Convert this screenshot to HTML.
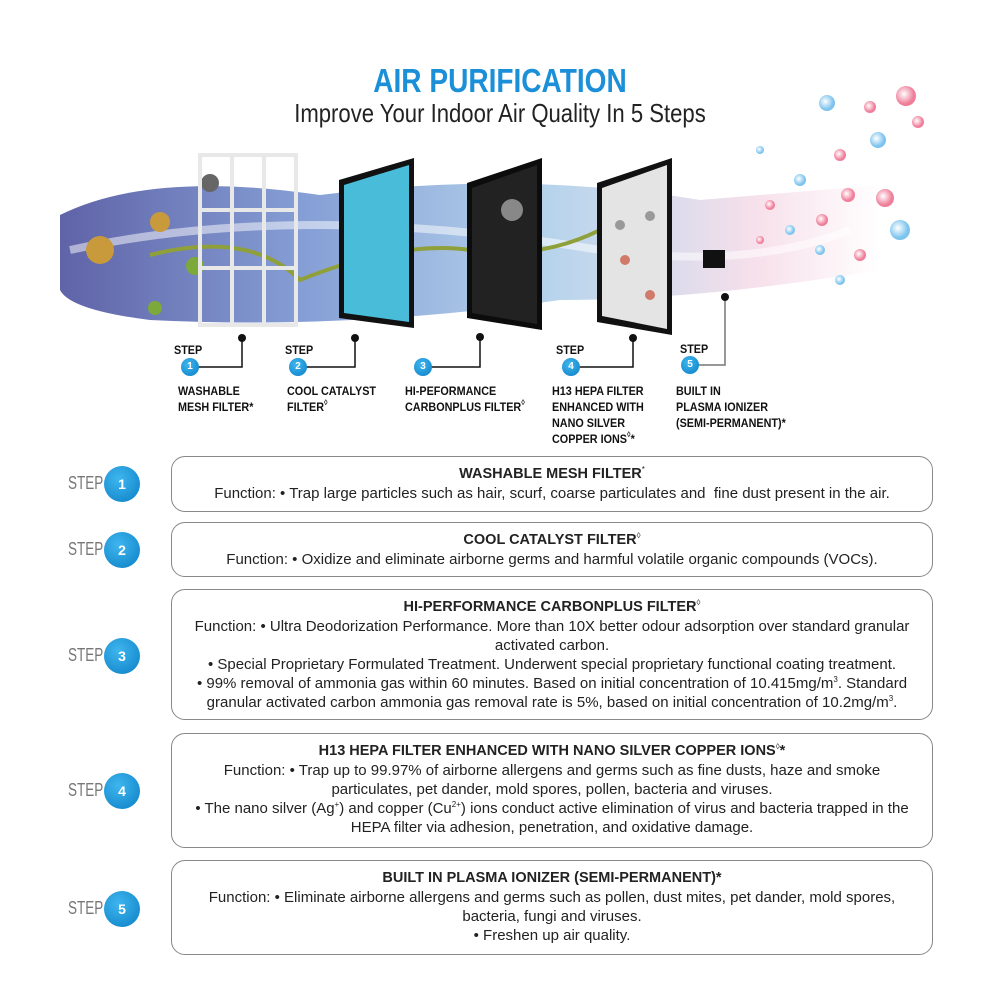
<!DOCTYPE html>
<html><head><meta charset="utf-8"><style>
*{margin:0;padding:0;box-sizing:border-box}
body{width:1000px;height:1000px;background:#fff;font-family:"Liberation Sans",sans-serif;position:relative;overflow:hidden;color:#222}
sup{font-size:8px;line-height:0;vertical-align:6px}
.abs{position:absolute}
.t1{left:0;width:1000px;top:62px;text-align:center;color:#1b8fd8;font-weight:bold;font-size:33px;transform:scaleX(0.85)}
.t2{left:0;width:1000px;top:98px;text-align:center;color:#222;font-size:26px;transform:scaleX(0.85)}
.lbl{font-size:12px;font-weight:bold;line-height:16px;color:#111;transform-origin:left top;transform:scaleX(0.9);white-space:nowrap}
.box{left:171px;width:762px;border:1px solid #888;border-radius:14px;text-align:center;font-size:15px;line-height:19px;color:#222;padding-top:7px}
.box b{font-size:14.5px}
.step{left:68px;font-size:18px;color:#777;transform:scaleX(0.75);transform-origin:left top}
.circ{width:36px;height:36px;border-radius:50%;background:radial-gradient(circle at 40% 35%,#3fb6ee,#0a7fc6);color:#fff;font-weight:bold;font-size:14px;text-align:center;line-height:36px}
.sc{width:18px;height:18px;border-radius:50%;background:radial-gradient(circle at 40% 35%,#3fb6ee,#0a7fc6);color:#fff;font-weight:bold;font-size:10px;text-align:center;line-height:18px}
</style></head><body>
<div class="abs t1">AIR PURIFICATION</div>
<div class="abs t2">Improve Your Indoor Air Quality In 5 Steps</div>

<svg class="abs" style="left:0;top:0" width="1000" height="460">
<defs>
<linearGradient id="sw" x1="0" x2="1"><stop offset="0" stop-color="#2a2f8a"/><stop offset="0.3" stop-color="#5d7fc8"/><stop offset="0.6" stop-color="#9fc6e6"/><stop offset="0.85" stop-color="#f4d6e4"/><stop offset="1" stop-color="#fff"/></linearGradient>
<radialGradient id="ion" cx="0.4" cy="0.4"><stop offset="0" stop-color="#fff"/><stop offset="1" stop-color="#7cc3ee"/></radialGradient>
<radialGradient id="ionr" cx="0.4" cy="0.4"><stop offset="0" stop-color="#fff"/><stop offset="1" stop-color="#ef7c98"/></radialGradient>
</defs>
<path d="M60 215 Q150 170 320 195 Q520 170 700 200 L880 185 L880 270 Q700 300 560 300 Q350 330 150 320 Q70 310 60 290 Z" fill="url(#sw)" opacity="0.75"/>
<path d="M70 250 Q300 200 600 250 Q750 270 850 230" stroke="#fff" stroke-width="8" fill="none" opacity="0.5"/>
<circle cx="100" cy="250" r="14" fill="#c99a3c"/><circle cx="160" cy="222" r="10" fill="#c99a3c"/>
<circle cx="195" cy="266" r="9" fill="#7da83a"/><circle cx="155" cy="308" r="7" fill="#7da83a"/>
<circle cx="210" cy="183" r="9" fill="#666"/>
<path d="M150 255 Q250 230 300 280 Q400 240 470 250 Q540 260 600 230" stroke="#8fa03a" stroke-width="4" fill="none"/>
<g stroke="#e8e8e8" stroke-width="4" fill="none">
<rect x="200" y="155" width="96" height="170"/><line x1="232" y1="155" x2="232" y2="325"/><line x1="264" y1="155" x2="264" y2="325"/><line x1="200" y1="210" x2="296" y2="210"/><line x1="200" y1="268" x2="296" y2="268"/>
</g>
<polygon points="339,180 414,158 414,328 339,318" fill="#111"/>
<polygon points="344,185 409,165 409,322 344,313" fill="#49bcd9"/>
<polygon points="467,183 542,158 542,330 467,318" fill="#0c0c0c"/>
<polygon points="472,188 537,165 537,324 472,313" fill="#222"/>
<circle cx="512" cy="210" r="11" fill="#888"/>
<polygon points="597,183 672,158 672,335 597,322" fill="#111"/>
<polygon points="602,188 667,165 667,329 602,316" fill="#e4e4e4"/>
<circle cx="620" cy="225" r="5" fill="#999"/><circle cx="650" cy="216" r="5" fill="#999"/><circle cx="625" cy="260" r="5" fill="#d07a6a"/><circle cx="650" cy="295" r="5" fill="#d07a6a"/>
<rect x="703" y="250" width="22" height="18" fill="#111"/>
<g>
<circle cx="827" cy="103" r="8" fill="url(#ion)"/><circle cx="870" cy="107" r="6" fill="url(#ionr)"/><circle cx="906" cy="96" r="10" fill="url(#ionr)"/><circle cx="878" cy="140" r="8" fill="url(#ion)"/><circle cx="918" cy="122" r="6" fill="url(#ionr)"/><circle cx="840" cy="155" r="6" fill="url(#ionr)"/><circle cx="900" cy="230" r="10" fill="url(#ion)"/><circle cx="885" cy="198" r="9" fill="url(#ionr)"/><circle cx="848" cy="195" r="7" fill="url(#ionr)"/><circle cx="800" cy="180" r="6" fill="url(#ion)"/><circle cx="822" cy="220" r="6" fill="url(#ionr)"/><circle cx="790" cy="230" r="5" fill="url(#ion)"/><circle cx="770" cy="205" r="5" fill="url(#ionr)"/><circle cx="820" cy="250" r="5" fill="url(#ion)"/><circle cx="860" cy="255" r="6" fill="url(#ionr)"/><circle cx="840" cy="280" r="5" fill="url(#ion)"/><circle cx="760" cy="150" r="4" fill="url(#ion)"/><circle cx="760" cy="240" r="4" fill="url(#ionr)"/>
</g>
<g stroke="#111" stroke-width="1.5" fill="none">
<polyline points="190,367 242,367 242,338"/><polyline points="298,367 355,367 355,338"/><polyline points="423,367 480,367 480,338"/><polyline points="571,367 633,367 633,338"/><polyline points="690,365 725,365 725,298" stroke="#777"/>
</g>
<g fill="#111"><circle cx="242" cy="338" r="4"/><circle cx="355" cy="338" r="4"/><circle cx="480" cy="337" r="4"/><circle cx="633" cy="338" r="4"/><circle cx="725" cy="297" r="4"/></g>
</svg>

<div class="abs lbl" style="left:174px;top:342px">STEP</div>
<div class="abs lbl" style="left:285px;top:342px">STEP</div>
<div class="abs lbl" style="left:556px;top:342px">STEP</div>
<div class="abs lbl" style="left:680px;top:341px">STEP</div>
<div class="abs sc" style="left:181px;top:358px">1</div>
<div class="abs sc" style="left:289px;top:358px">2</div>
<div class="abs sc" style="left:414px;top:358px">3</div>
<div class="abs sc" style="left:562px;top:358px">4</div>
<div class="abs sc" style="left:681px;top:356px">5</div>
<div class="abs lbl" style="left:178px;top:383px">WASHABLE<br>MESH FILTER*</div>
<div class="abs lbl" style="left:287px;top:383px">COOL CATALYST<br>FILTER<sup>◊</sup></div>
<div class="abs lbl" style="left:405px;top:383px">HI-PEFORMANCE<br>CARBONPLUS FILTER<sup>◊</sup></div>
<div class="abs lbl" style="left:552px;top:383px">H13 HEPA FILTER<br>ENHANCED WITH<br>NANO SILVER<br>COPPER IONS<sup>◊</sup>*</div>
<div class="abs lbl" style="left:676px;top:383px">BUILT IN<br>PLASMA IONIZER<br>(SEMI-PERMANENT)*</div>

<div class="abs step" style="top:473px">STEP</div><div class="abs circ" style="left:104px;top:466px">1</div>
<div class="abs step" style="top:539px">STEP</div><div class="abs circ" style="left:104px;top:532px">2</div>
<div class="abs step" style="top:645px">STEP</div><div class="abs circ" style="left:104px;top:638px">3</div>
<div class="abs step" style="top:780px">STEP</div><div class="abs circ" style="left:104px;top:773px">4</div>
<div class="abs step" style="top:898px">STEP</div><div class="abs circ" style="left:104px;top:891px">5</div>

<div class="abs box" style="top:456px;height:56px"><b>WASHABLE MESH FILTER</b><sup>*</sup><br>Function: • Trap large particles such as hair, scurf, coarse particulates and&nbsp; fine dust present in the air.</div>
<div class="abs box" style="top:522px;height:55px"><b>COOL CATALYST FILTER</b><sup>◊</sup><br>Function: • Oxidize and eliminate airborne germs and harmful volatile organic compounds (VOCs).</div>
<div class="abs box" style="top:589px;height:131px"><b>HI-PERFORMANCE CARBONPLUS FILTER</b><sup>◊</sup><br>Function: • Ultra Deodorization Performance. More than 10X better odour adsorption over standard granular<br>activated carbon.<br>• Special Proprietary Formulated Treatment. Underwent special proprietary functional coating treatment.<br>• 99% removal of ammonia gas within 60 minutes. Based on initial concentration of 10.415mg/m<sup>3</sup>. Standard<br>granular activated carbon ammonia gas removal rate is 5%, based on initial concentration of 10.2mg/m<sup>3</sup>.</div>
<div class="abs box" style="top:733px;height:115px"><b>H13 HEPA FILTER ENHANCED WITH NANO SILVER COPPER IONS</b><sup>◊</sup><b>*</b><br>Function: • Trap up to 99.97% of airborne allergens and germs such as fine dusts, haze and smoke<br>particulates, pet dander, mold spores, pollen, bacteria and viruses.<br>• The nano silver (Ag<sup>+</sup>) and copper (Cu<sup>2+</sup>) ions conduct active elimination of virus and bacteria trapped in the<br>HEPA filter via adhesion, penetration, and oxidative damage.</div>
<div class="abs box" style="top:860px;height:95px"><b>BUILT IN PLASMA IONIZER (SEMI-PERMANENT)*</b><br>Function: • Eliminate airborne allergens and germs such as pollen, dust mites, pet dander, mold spores,<br>bacteria, fungi and viruses.<br>• Freshen up air quality.</div>
</body></html>
